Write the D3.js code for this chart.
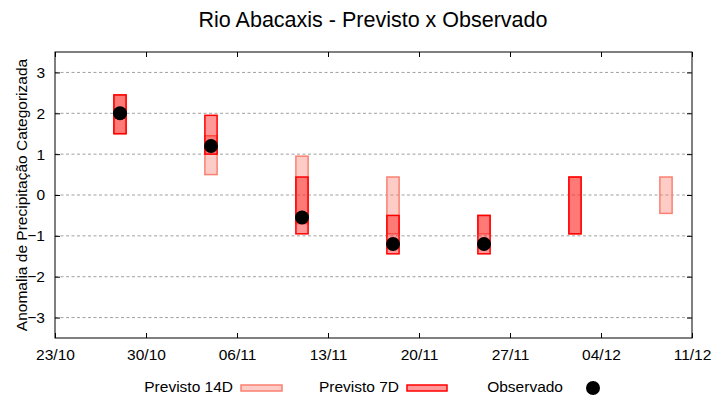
<!DOCTYPE html>
<html>
<head>
<meta charset="utf-8">
<script src="https://cdn.jsdelivr.net/npm/d3@7"></script>
<style>
    body { margin: 0; background: #fff; }
    svg { display: block; font-family: "Liberation Sans", Arial, sans-serif; }
</style>
</head>
<body>
<div id="chart"></div>
<script>
const YEAR = "2023";

// semanas de previsao
const dates = ["28/10", "04/11", "11/11", "18/11", "25/11", "02/12", "09/12"];
const prev14Low = [1.5, 0.5, -0.7, -0.95, -0.95, -0.95, -0.45];
const prev14High = [2.45, 1.45, 0.95, 0.44, -0.5, 0.44, 0.44];
const prev7Low = [1.5, 1.0, -0.95, -1.44, -1.44, -0.95, null];
const prev7High = [2.45, 1.95, 0.44, -0.5, -0.5, 0.44, null];
const observed = [2.0, 1.2, -0.55, -1.2, -1.2, null, null];

const xTickLabels = ["23/10", "30/10", "06/11", "13/11", "20/11", "27/11", "04/12", "11/12"];
const yTicks = [-3, -2, -1, 0, 1, 2, 3];

const COLOR_14D = "#fa8072";
const COLOR_7D = "#ff0000";

const width = 720;
const height = 400;
const margin = { top: 52, right: 28, bottom: 62, left: 55 };
const FONT = 15.5;

const parse = d3.timeParse("%d/%m/%Y");
const toDate = s => parse(s + "/" + YEAR);
const DAY = 24 * 3600 * 1000;

const svg = d3
    .select("#chart")
    .append("svg")
    .attr("width", width)
    .attr("height", height);

const x = d3
    .scaleTime()
    .domain([toDate(xTickLabels[0]), toDate(xTickLabels[xTickLabels.length - 1])])
    .range([margin.left, width - margin.right]);

const y = d3
    .scaleLinear()
    .domain([-3.5, 3.5])
    .range([height - margin.bottom, margin.top]);

const x0 = margin.left, x1 = width - margin.right;
const y0 = margin.top, y1 = height - margin.bottom;

// grade
svg.append("g")
    .selectAll("line")
    .data(yTicks)
    .join("line")
    .attr("x1", x0)
    .attr("x2", x1)
    .attr("y1", d => y(d))
    .attr("y2", d => y(d))
    .attr("stroke", "#a0a0a0")
    .attr("stroke-width", 1)
    .attr("stroke-dasharray", "3,2.5");

// barras
const rows = dates.map((d, i) => ({
    date: toDate(d),
    lo14: prev14Low[i], hi14: prev14High[i],
    lo7: prev7Low[i], hi7: prev7High[i],
    obs: observed[i]
}));

const halfW = 0.47 * DAY;

function bars(cls, lo, hi, color) {
    svg.append("g")
        .attr("class", cls)
        .selectAll("rect")
        .data(rows.filter(r => r[lo] != null))
        .join("rect")
        .attr("x", r => x(new Date(+r.date - halfW)))
        .attr("width", r => x(new Date(+r.date + halfW)) - x(new Date(+r.date - halfW)))
        .attr("y", r => y(r[hi]))
        .attr("height", r => y(r[lo]) - y(r[hi]))
        .attr("fill", color)
        .attr("fill-opacity", 0.4)
        .attr("stroke", color)
        .attr("stroke-width", 1.5);
}

bars("p14", "lo14", "hi14", COLOR_14D);
bars("p7", "lo7", "hi7", COLOR_7D);

// observado
svg.append("g")
    .selectAll("circle")
    .data(rows.filter(r => r.obs != null))
    .join("circle")
    .attr("cx", r => x(r.date))
    .attr("cy", r => y(r.obs))
    .attr("r", 7)
    .attr("fill", "#000");

// eixos (ticks para dentro, espelhados)
const xTickVals = xTickLabels.map(toDate);
const fmt = d3.timeFormat("%d/%m");

svg.append("g")
    .attr("transform", "translate(0," + y1 + ")")
    .call(d3.axisBottom(x).tickValues(xTickVals).tickFormat(fmt).tickSize(-5).tickSizeOuter(0).tickPadding(11))
    .call(g => g.select(".domain").remove())
    .call(g => g.selectAll("text").attr("font-size", FONT).attr("font-family", "Liberation Sans, Arial").attr("fill", "#000"));

svg.append("g")
    .attr("transform", "translate(0," + y0 + ")")
    .call(d3.axisTop(x).tickValues(xTickVals).tickSize(-5).tickSizeOuter(0).tickFormat(""))
    .call(g => g.select(".domain").remove());

svg.append("g")
    .attr("transform", "translate(" + x0 + ",0)")
    .call(d3.axisLeft(y).tickValues(yTicks).tickFormat(d3.format("d")).tickSize(-5).tickSizeOuter(0).tickPadding(10))
    .call(g => g.select(".domain").remove())
    .call(g => g.selectAll("text").attr("font-size", FONT).attr("font-family", "Liberation Sans, Arial").attr("fill", "#000"));

svg.append("g")
    .attr("transform", "translate(" + x1 + ",0)")
    .call(d3.axisRight(y).tickValues(yTicks).tickSize(-5).tickSizeOuter(0).tickFormat(""))
    .call(g => g.select(".domain").remove());

svg.append("rect")
    .attr("x", x0)
    .attr("y", y0)
    .attr("width", x1 - x0)
    .attr("height", y1 - y0)
    .attr("fill", "none")
    .attr("stroke", "#000")
    .attr("stroke-width", 1);

// titulo
svg.append("text")
    .attr("x", 373)
    .attr("y", 27)
    .attr("text-anchor", "middle")
    .attr("font-size", 21.5)
    .text("Rio Abacaxis - Previsto x Observado");

svg.append("text")
    .attr("transform", "translate(27," + ((y0 + y1) / 2) + ") rotate(-90)")
    .attr("text-anchor", "middle")
    .attr("font-size", FONT)
    .text("Anomalia de Precipitação Categorizada");

// legenda
const legend = svg.append("g").attr("font-size", FONT);

legend.append("text").attr("x", 233).attr("y", 392).attr("text-anchor", "end").text("Previsto 14D");
legend.append("rect")
    .attr("x", 241).attr("y", 385).attr("width", 41).attr("height", 6)
    .attr("fill", COLOR_14D).attr("fill-opacity", 0.4).attr("stroke", COLOR_14D).attr("stroke-width", 1.5);

legend.append("text").attr("x", 399).attr("y", 392).attr("text-anchor", "end").text("Previsto 7D");
legend.append("rect")
    .attr("x", 407).attr("y", 385).attr("width", 40).attr("height", 6)
    .attr("fill", COLOR_7D).attr("fill-opacity", 0.4).attr("stroke", COLOR_7D).attr("stroke-width", 1.5);

legend.append("text").attr("x", 563).attr("y", 392).attr("text-anchor", "end").text("Observado");
legend.append("circle").attr("cx", 593).attr("cy", 388).attr("r", 7).attr("fill", "#000");
</script>
</body>
</html>
